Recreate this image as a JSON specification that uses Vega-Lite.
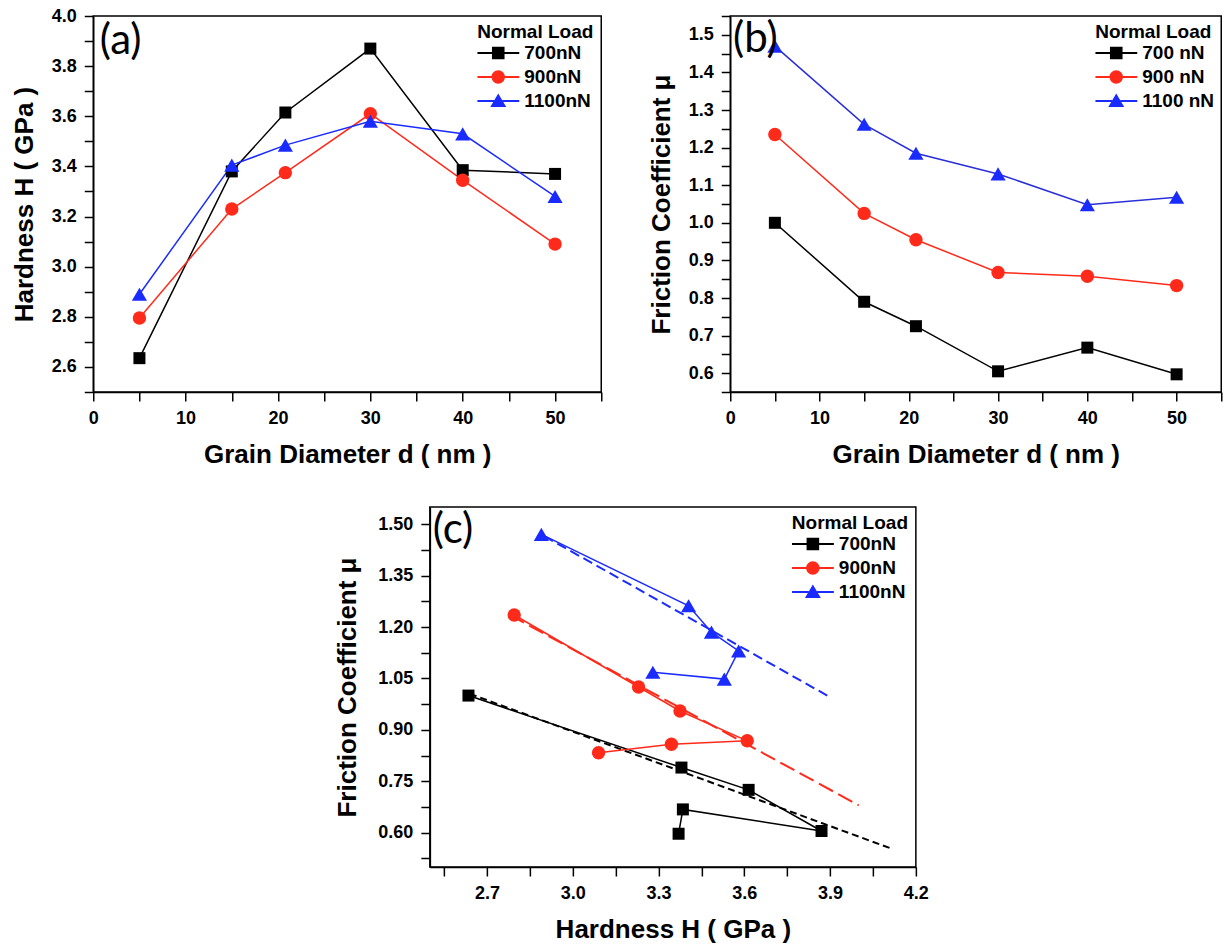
{
  "$schema": "https://vega.github.io/schema/vega-lite/v6.json",
  "background": "white",
  "padding": {"left": 10, "top": 6, "right": 5, "bottom": 0},
  "datasets": {
    "main": [
      {"load": "700nN", "d": 5, "H": 2.635, "mu": 1.0},
      {"load": "700nN", "d": 15, "H": 3.38, "mu": 0.79},
      {"load": "700nN", "d": 20.8, "H": 3.615, "mu": 0.725},
      {"load": "700nN", "d": 30, "H": 3.87, "mu": 0.605},
      {"load": "700nN", "d": 40, "H": 3.385, "mu": 0.668},
      {"load": "700nN", "d": 50, "H": 3.37, "mu": 0.597},
      {"load": "900nN", "d": 5, "H": 2.795, "mu": 1.235},
      {"load": "900nN", "d": 15, "H": 3.23, "mu": 1.025},
      {"load": "900nN", "d": 20.8, "H": 3.375, "mu": 0.955},
      {"load": "900nN", "d": 30, "H": 3.61, "mu": 0.868},
      {"load": "900nN", "d": 40, "H": 3.345, "mu": 0.858},
      {"load": "900nN", "d": 50, "H": 3.09, "mu": 0.833},
      {"load": "1100nN", "d": 5, "H": 2.89, "mu": 1.47},
      {"load": "1100nN", "d": 15, "H": 3.405, "mu": 1.262},
      {"load": "1100nN", "d": 20.8, "H": 3.485, "mu": 1.185},
      {"load": "1100nN", "d": 30, "H": 3.58, "mu": 1.13},
      {"load": "1100nN", "d": 40, "H": 3.53, "mu": 1.048},
      {"load": "1100nN", "d": 50, "H": 3.28, "mu": 1.068}
    ],
    "fits": [
      {"load": "700nN", "H": 2.64, "mu": 1.005},
      {"load": "700nN", "H": 4.11, "mu": 0.555},
      {"load": "900nN", "H": 2.78, "mu": 1.235},
      {"load": "900nN", "H": 4.0, "mu": 0.68},
      {"load": "1100nN", "H": 2.9, "mu": 1.465},
      {"load": "1100nN", "H": 3.89, "mu": 1.0}
    ]
  },
  "config": {
    "font": "Liberation Sans",
    "view": {"stroke": "black", "strokeWidth": 1.5},
    "axis": {
      "grid": false, "domainColor": "black", "domainWidth": 1.5,
      "tickColor": "black", "tickWidth": 1.5, "tickSize": 9,
      "labelFont": "Liberation Sans", "labelFontSize": 18, "labelFontWeight": "bold", "labelColor": "black", "labelPadding": 8,
      "labelFlush": false, "labelOverlap": false,
      "titleFont": "Liberation Sans", "titleFontSize": 26, "titleFontWeight": "bold", "titleColor": "black", "titlePadding": 14
    },
    "legend": {
      "orient": "top-right", "offset": 7, "padding": 0,
      "titleFont": "Liberation Sans", "titleFontSize": 19, "titleFontWeight": "bold", "titleColor": "black", "titlePadding": 0,
      "labelFont": "Liberation Sans", "labelFontSize": 19, "labelFontWeight": "bold", "labelColor": "black", "labelOffset": 5,
      "symbolSize": 1764, "symbolStrokeWidth": 0, "rowPadding": 2, "clipHeight": 22
    }
  },
  "center": true,
  "spacing": 38,
  "resolve": {"scale": {"color": "independent", "fill": "independent", "shape": "independent", "strokeDash": "independent"}, "legend": {"fill": "independent", "shape": "independent"}},
  "vconcat": [
    {
      "hconcat": [
        {
          "width": 508, "height": 376,
          "data": {"name": "main"},
          "layer": [
            {
              "mark": {"type": "point", "filled": true, "opacity": 1},
              "encoding": {
                "x": {"field": "d", "type": "quantitative", "scale": {"domain": [0, 55], "nice": false, "zero": false},
                      "axis": {"title": "Grain Diameter d ( nm )", "tickCount": 60, "labelOverlap": false, "values": [0,5,10,15,20,25,30,35,40,45,50,55], "labelExpr": "datum.value % 10 == 0 && datum.value < 55 ? datum.label : ''"}},
                "y": {"field": "H", "type": "quantitative", "scale": {"domain": [2.5, 4.0], "nice": false, "zero": false},
                      "axis": {"title": "Hardness H ( GPa )", "tickCount": 60, "labelOverlap": false, "values": [2.5,2.6,2.7,2.8,2.9,3.0,3.1,3.2,3.3,3.4,3.5,3.6,3.7,3.8,3.9,4.0],
                               "labelExpr": "round(datum.value*10) % 2 == 0 ? format(datum.value, '.1f') : ''"}},
                "fill": {"field": "load", "type": "nominal", "scale": {"domain": ["700nN", "900nN", "1100nN"], "range": ["#000000", "#ff2a1a", "#1a2bff"]}, "legend": {"title": "Normal Load"}},
                "shape": {"field": "load", "type": "nominal", "scale": {"domain": ["700nN", "900nN", "1100nN"], "range": [
                  "M-1,-0.045H-0.3V-0.3H0.3V-0.045H1V0.045H0.3V0.3H-0.3V0.045H-1Z",
                  "M-1,-0.045H-0.3V0.045H-1Z M0.3,-0.045H1V0.045H0.3Z M-0.32,0A0.32,0.32 0 1,1 0.32,0A0.32,0.32 0 1,1 -0.32,0Z",
                  "M-1,-0.045H-0.2V0.045H-1Z M0.2,-0.045H1V0.045H0.2Z M0,-0.36L0.38,0.28H-0.38Z"]}, "legend": {"title": "Normal Load"}}
              }
            },
            {
              "mark": {"type": "line", "strokeWidth": 1.5},
              "encoding": {
                "x": {"field": "d", "type": "quantitative"},
                "y": {"field": "H", "type": "quantitative"},
                "color": {"field": "load", "type": "nominal", "scale": {"domain": ["700nN", "900nN", "1100nN"], "range": ["#000000", "#ff2a1a", "#1a2bff"]}, "legend": null},
                "order": {"field": "d"}
              }
            },
            {
              "transform": [{"filter": "datum.load == '700nN'"}],
              "mark": {"type": "point", "shape": "square", "filled": true, "color": "#000000", "size": 144, "opacity": 1},
              "encoding": {"x": {"field": "d", "type": "quantitative"}, "y": {"field": "H", "type": "quantitative"}}
            },
            {
              "transform": [{"filter": "datum.load == '900nN'"}],
              "mark": {"type": "point", "shape": "circle", "filled": true, "color": "#ff2a1a", "size": 180, "opacity": 1},
              "encoding": {"x": {"field": "d", "type": "quantitative"}, "y": {"field": "H", "type": "quantitative"}}
            },
            {
              "transform": [{"filter": "datum.load == '1100nN'"}],
              "mark": {"type": "point", "shape": "triangle-up", "filled": true, "color": "#1a2bff", "size": 230, "opacity": 1},
              "encoding": {"x": {"field": "d", "type": "quantitative"}, "y": {"field": "H", "type": "quantitative"}}
            },
            {
              "data": {"values": [{}]},
              "mark": {"type": "text", "text": "(a)", "font": "Lato", "fontSize": 42, "align": "left", "baseline": "middle", "color": "black"},
              "encoding": {"x": {"datum": 0.7}, "y": {"datum": 3.9}}
            }
          ]
        },
        {
          "width": 491, "height": 376,
          "data": {"name": "main"},
          "layer": [
            {
              "mark": {"type": "point", "filled": true, "opacity": 1},
              "encoding": {
                "x": {"field": "d", "type": "quantitative", "scale": {"domain": [0, 55], "nice": false, "zero": false},
                      "axis": {"title": "Grain Diameter d ( nm )", "tickCount": 60, "labelOverlap": false, "values": [0,5,10,15,20,25,30,35,40,45,50,55], "labelExpr": "datum.value % 10 == 0 && datum.value < 55 ? datum.label : ''"}},
                "y": {"field": "mu", "type": "quantitative", "scale": {"domain": [0.55, 1.55], "nice": false, "zero": false},
                      "axis": {"title": "Friction Coefficient μ", "tickCount": 60, "labelOverlap": false, "values": [0.55,0.6,0.65,0.7,0.75,0.8,0.85,0.9,0.95,1.0,1.05,1.1,1.15,1.2,1.25,1.3,1.35,1.4,1.45,1.5,1.55],
                               "labelExpr": "round(datum.value*100) % 10 == 0 ? format(datum.value, '.1f') : ''"}},
                "fill": {"field": "load", "type": "nominal", "scale": {"domain": ["700nN", "900nN", "1100nN"], "range": ["#000000", "#ff2a1a", "#1a2bff"]}, "legend": {"title": "Normal Load", "labelExpr": "replace(datum.label, 'nN', ' nN')"}},
                "shape": {"field": "load", "type": "nominal", "scale": {"domain": ["700nN", "900nN", "1100nN"], "range": [
                  "M-1,-0.045H-0.3V-0.3H0.3V-0.045H1V0.045H0.3V0.3H-0.3V0.045H-1Z",
                  "M-1,-0.045H-0.3V0.045H-1Z M0.3,-0.045H1V0.045H0.3Z M-0.32,0A0.32,0.32 0 1,1 0.32,0A0.32,0.32 0 1,1 -0.32,0Z",
                  "M-1,-0.045H-0.2V0.045H-1Z M0.2,-0.045H1V0.045H0.2Z M0,-0.36L0.38,0.28H-0.38Z"]}, "legend": {"title": "Normal Load", "labelExpr": "replace(datum.label, 'nN', ' nN')"}}
              }
            },
            {
              "mark": {"type": "line", "strokeWidth": 1.5},
              "encoding": {
                "x": {"field": "d", "type": "quantitative"},
                "y": {"field": "mu", "type": "quantitative"},
                "color": {"field": "load", "type": "nominal", "scale": {"domain": ["700nN", "900nN", "1100nN"], "range": ["#000000", "#ff2a1a", "#2a2fd8"]}, "legend": null},
                "order": {"field": "d"}
              }
            },
            {
              "transform": [{"filter": "datum.load == '700nN'"}],
              "mark": {"type": "point", "shape": "square", "filled": true, "color": "#000000", "size": 144, "opacity": 1},
              "encoding": {"x": {"field": "d", "type": "quantitative"}, "y": {"field": "mu", "type": "quantitative"}}
            },
            {
              "transform": [{"filter": "datum.load == '900nN'"}],
              "mark": {"type": "point", "shape": "circle", "filled": true, "color": "#ff2a1a", "size": 180, "opacity": 1},
              "encoding": {"x": {"field": "d", "type": "quantitative"}, "y": {"field": "mu", "type": "quantitative"}}
            },
            {
              "transform": [{"filter": "datum.load == '1100nN'"}],
              "mark": {"type": "point", "shape": "triangle-up", "filled": true, "color": "#1a2bff", "size": 230, "opacity": 1},
              "encoding": {"x": {"field": "d", "type": "quantitative"}, "y": {"field": "mu", "type": "quantitative"}}
            },
            {
              "data": {"values": [{}]},
              "mark": {"type": "text", "text": "(b)", "font": "Lato", "fontSize": 42, "align": "left", "baseline": "middle", "color": "black"},
              "encoding": {"x": {"datum": 0.3}, "y": {"datum": 1.49}}
            }
          ]
        }
      ],
      "spacing": 44,
      "resolve": {"scale": {"color": "independent", "fill": "independent", "shape": "independent"}, "legend": {"fill": "independent", "shape": "independent"}}
    },
    {
      "hconcat": [
        {
          "width": 2, "height": 2,
          "data": {"values": []},
          "mark": "point",
          "view": {"stroke": null}
        },
        {
          "width": 486, "height": 360,
          "layer": [
            {
              "data": {"name": "main"},
              "mark": {"type": "point", "filled": true, "opacity": 1},
              "encoding": {
                "x": {"field": "H", "type": "quantitative", "scale": {"domain": [2.5, 4.2], "nice": false, "zero": false},
                      "axis": {"title": "Hardness H ( GPa )", "tickCount": 60, "labelOverlap": false, "values": [2.55,2.7,2.85,3.0,3.15,3.3,3.45,3.6,3.75,3.9,4.05,4.2], "labelExpr": "round(datum.value*100) % 30 == 0 ? format(datum.value, '.1f') : ''"}},
                "y": {"field": "mu", "type": "quantitative", "scale": {"domain": [0.5, 1.55], "nice": false, "zero": false},
                      "axis": {"title": "Friction Coefficient μ", "titlePadding": 17, "tickCount": 60, "labelOverlap": false, "values": [0.525,0.6,0.675,0.75,0.825,0.9,0.975,1.05,1.125,1.2,1.275,1.35,1.425,1.5],
                               "labelExpr": "round(datum.value*1000) % 150 == 0 ? format(datum.value, '.2f') : ''"}},
                "fill": {"field": "load", "type": "nominal", "scale": {"domain": ["700nN", "900nN", "1100nN"], "range": ["#000000", "#ff2a1a", "#1a2bff"]}, "legend": {"title": "Normal Load"}},
                "shape": {"field": "load", "type": "nominal", "scale": {"domain": ["700nN", "900nN", "1100nN"], "range": [
                  "M-1,-0.045H-0.3V-0.3H0.3V-0.045H1V0.045H0.3V0.3H-0.3V0.045H-1Z",
                  "M-1,-0.045H-0.3V0.045H-1Z M0.3,-0.045H1V0.045H0.3Z M-0.32,0A0.32,0.32 0 1,1 0.32,0A0.32,0.32 0 1,1 -0.32,0Z",
                  "M-1,-0.045H-0.2V0.045H-1Z M0.2,-0.045H1V0.045H0.2Z M0,-0.36L0.38,0.28H-0.38Z"]}, "legend": {"title": "Normal Load"}}
              }
            },
            {
              "data": {"name": "fits"},
              "mark": {"type": "line", "strokeWidth": 2},
              "encoding": {
                "x": {"field": "H", "type": "quantitative"},
                "y": {"field": "mu", "type": "quantitative"},
                "color": {"field": "load", "type": "nominal", "scale": {"domain": ["700nN", "900nN", "1100nN"], "range": ["#000000", "#ff2a1a", "#1a2bff"]}, "legend": null},
                "strokeDash": {"field": "load", "type": "nominal", "scale": {"domain": ["700nN", "900nN", "1100nN"], "range": [[7, 4], [16, 6], [10, 5]]}, "legend": null}
              }
            },
            {
              "data": {"name": "main"},
              "mark": {"type": "line", "strokeWidth": 1.5},
              "encoding": {
                "x": {"field": "H", "type": "quantitative"},
                "y": {"field": "mu", "type": "quantitative"},
                "color": {"field": "load", "type": "nominal", "legend": null},
                "order": {"field": "d"}
              }
            },
            {
              "data": {"name": "main"},
              "transform": [{"filter": "datum.load == '700nN'"}],
              "mark": {"type": "point", "shape": "square", "filled": true, "color": "#000000", "size": 144, "opacity": 1},
              "encoding": {"x": {"field": "H", "type": "quantitative"}, "y": {"field": "mu", "type": "quantitative"}}
            },
            {
              "data": {"name": "main"},
              "transform": [{"filter": "datum.load == '900nN'"}],
              "mark": {"type": "point", "shape": "circle", "filled": true, "color": "#ff2a1a", "size": 180, "opacity": 1},
              "encoding": {"x": {"field": "H", "type": "quantitative"}, "y": {"field": "mu", "type": "quantitative"}}
            },
            {
              "data": {"name": "main"},
              "transform": [{"filter": "datum.load == '1100nN'"}],
              "mark": {"type": "point", "shape": "triangle-up", "filled": true, "color": "#1a2bff", "size": 230, "opacity": 1},
              "encoding": {"x": {"field": "H", "type": "quantitative"}, "y": {"field": "mu", "type": "quantitative"}}
            },
            {
              "data": {"values": [{}]},
              "mark": {"type": "text", "text": "(c)", "font": "Lato", "fontSize": 42, "align": "left", "baseline": "middle", "color": "black"},
              "encoding": {"x": {"datum": 2.51}, "y": {"datum": 1.482}}
            }
          ]
        }
      ],
      "spacing": -55,
      "resolve": {"scale": {"fill": "independent", "shape": "independent"}, "legend": {"fill": "independent", "shape": "independent"}}
    }
  ]
}
